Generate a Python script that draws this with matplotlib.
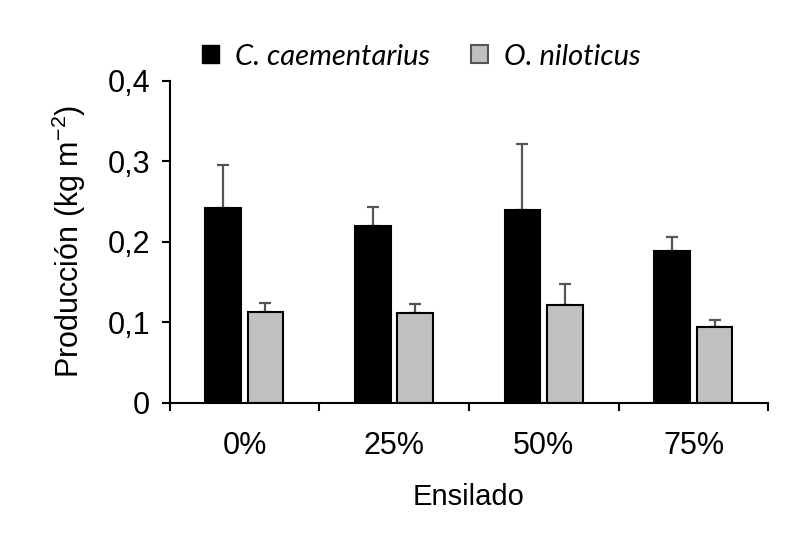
import matplotlib.pyplot as plt
from matplotlib.patches import Patch
import numpy as np

plt.rcParams['font.family'] = ['Liberation Sans', 'DejaVu Sans']
plt.rcParams['mathtext.fontset'] = 'custom'
plt.rcParams['mathtext.rm'] = 'Liberation Sans'
plt.rcParams['mathtext.it'] = 'Liberation Sans:italic'

categories = ["0%", "25%", "50%", "75%"]
series_names = ["C. caementarius", "O. niloticus"]
camaron = [0.242, 0.220, 0.239, 0.189]
camaron_err = [0.054, 0.023, 0.083, 0.017]
tilapia = [0.113, 0.112, 0.122, 0.094]
tilapia_err = [0.011, 0.011, 0.025, 0.009]

fig = plt.figure(figsize=(7.93, 5.35), dpi=100)
ax = fig.add_axes([0.214, 0.247, 0.755, 0.602])

x = np.arange(len(categories))
w = 0.24
# error bars sit under the bars so only the upper whisker shows
err_kw = dict(ecolor="#555555", elinewidth=1.6, capsize=4, capthick=1.6, zorder=1)
ax.bar(x - 0.143, camaron, w, color="black", edgecolor="black", linewidth=1.5,
       yerr=[np.zeros(4), camaron_err], error_kw=err_kw, zorder=2)
ax.bar(x + 0.14, tilapia, w, color="#c0c0c0", edgecolor="black", linewidth=1.5,
       yerr=[np.zeros(4), tilapia_err], error_kw=err_kw, zorder=2)

ax.set_xlim(-0.5, 3.5)
ax.set_ylim(0, 0.4)
ax.set_yticks([0, 0.1, 0.2, 0.3, 0.4])
ax.set_yticklabels(["0", "0,1", "0,2", "0,3", "0,4"])
ax.set_xticks(x)
ax.set_xticklabels(categories)
ax.set_xticks(np.arange(-0.5, 4, 1), minor=True)
ax.tick_params(axis="x", which="major", length=0, labelsize=22, pad=20)
ax.tick_params(axis="x", which="minor", length=6, width=1.5, direction="out")
ax.tick_params(axis="y", length=6, width=1.5, labelsize=22, pad=8)

for s in ["top", "right"]:
    ax.spines[s].set_visible(False)
for s in ["left", "bottom"]:
    ax.spines[s].set_linewidth(1.5)

ax.set_xlabel("Ensilado", fontsize=21, labelpad=16)
ax.set_ylabel(r"Producción (kg m$^{-2}$)", fontsize=22, labelpad=14)

handles = [Patch(facecolor="black", edgecolor="black"),
           Patch(facecolor="#c0c0c0", edgecolor="#555555", linewidth=1.5)]
fig.legend(handles, series_names, loc="center left", bbox_to_anchor=(0.236, 0.894),
           ncol=2, frameon=False, borderpad=0, handlelength=0.58, handleheight=0.58,
           handletextpad=0.55, columnspacing=1.4,
           prop={"family": "Lato", "style": "italic", "size": 21})

fig.savefig("out.png", dpi=100)
